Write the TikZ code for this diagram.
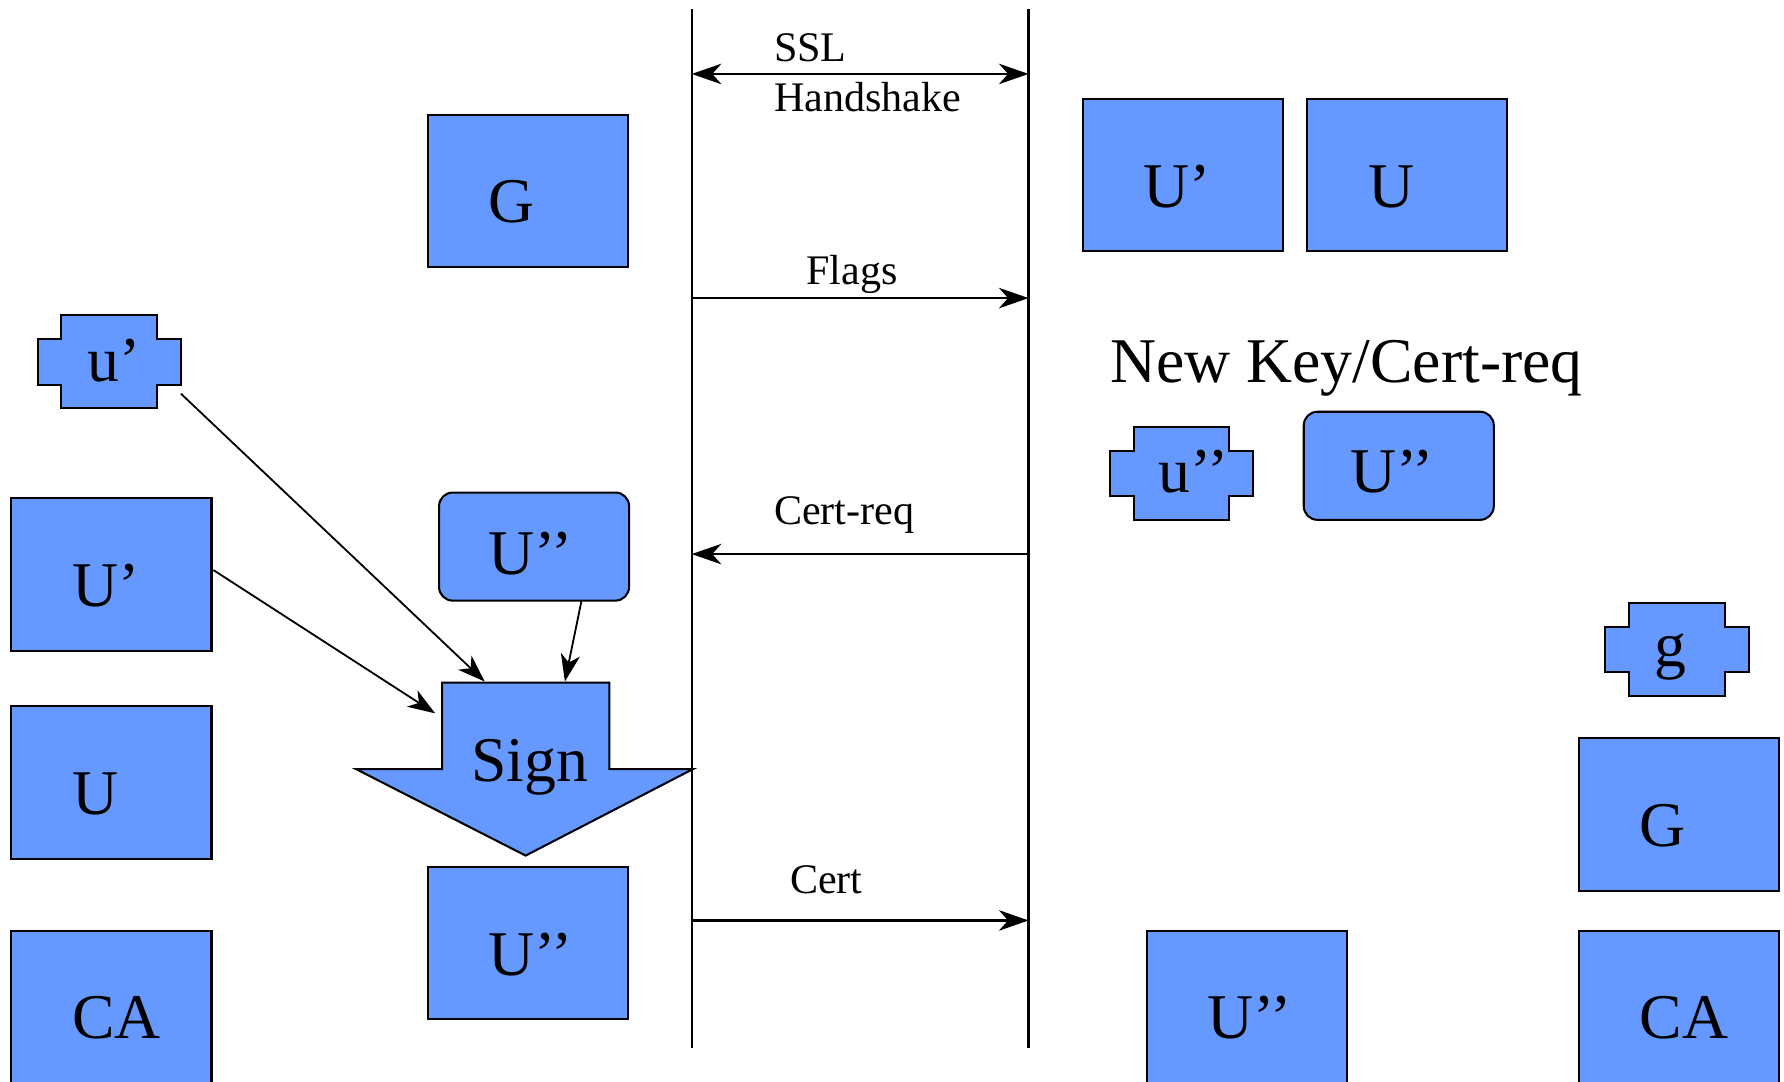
\documentclass[tikz,border=0pt]{standalone}
\usepackage{fontspec}
\setmainfont{Liberation Serif}
\usetikzlibrary{arrows.meta,calc}
\definecolor{boxblue}{HTML}{6699FF}
\newcommand\crossshape[3]{%
  \node[crossbb] (#1) at (#2,#3) {};
  \draw[crossst] (#2+21,#3) -- (#2+105,#3) -- (#2+105,#3+21) -- (#2+126,#3+21) -- (#2+126,#3+61) -- (#2+105,#3+61) -- (#2+105,#3+82) -- (#2+21,#3+82) -- (#2+21,#3+61) -- (#2,#3+61) -- (#2,#3+21) -- (#2+21,#3+21) -- cycle;}
\begin{document}
\begin{tikzpicture}[x=0.5pt,y=-0.5pt,
  box/.style={draw=black, fill=boxblue, line width=0.9pt, minimum width=88pt, minimum height=67pt, inner sep=0pt, anchor=north west},
  rbox/.style={draw=black, fill=boxblue, line width=0.9pt, rounded corners=6pt, minimum width=83.5pt, minimum height=47.5pt, inner sep=0pt, anchor=north west},
  crossbb/.style={minimum width=63pt, minimum height=41pt, inner sep=0pt, anchor=north west},
  crossst/.style={draw=black, fill=boxblue, line width=0.9pt},
  big/.style={font=\fontsize{28}{30}\selectfont, inner sep=0pt, anchor=base west},
  small/.style={font=\fontsize{18.5}{20}\selectfont, inner sep=0pt, anchor=base west},
  head/.style={-{Stealth[length=13pt, width=9pt, inset=4pt]}},
  msg/.style={line width=1pt, head},
  feed/.style={line width=0.8pt, -{Stealth[length=12pt, width=8.5pt, inset=3.5pt]}}]
\useasboundingbox (0,0) rectangle (1568,951);

% lifelines
\coordinate (Ltop) at (608,8);
\coordinate (Lbot) at (608,921);
\coordinate (Rtop) at (904,8);
\coordinate (Rbot) at (904,921);
\draw[line width=1.1pt] (Ltop) -- (Lbot);
\draw[line width=1.1pt] (Rtop) -- (Rbot);

% messages
\coordinate (L1) at (608,65);   \coordinate (R1) at (904,65);
\coordinate (L2) at (608,262);  \coordinate (R2) at (904,262);
\coordinate (L3) at (608,487);  \coordinate (R3) at (904,487);
\coordinate (L4) at (608,809);  \coordinate (R4) at (904,809);
\draw[line width=1pt, {Stealth[length=13pt, width=9pt, inset=4pt]}-{Stealth[length=13pt, width=9pt, inset=4pt]}] (L1) -- (R1);
\draw[msg] (L2) -- (R2);
\draw[msg] (R3) -- (L3);
\draw[msg] (L4) -- (R4);
\node[small] (tssl) at (680,54) {SSL};
\node[small] (thand) at (680,98) {Handshake};
\node[small] (tflags) at (708.5,250) {Flags};
\node[small] (tcreq) at (680,461) {Cert-req};
\node[small] (tcert) at (694,785) {Cert};

% left side
\node[box] (G1) at (375,100) {};
\node[big] (tG1) at (429,196) {G};
\crossshape{uc1}{33}{277}
\node[big] (tuc1) at (76.5,335) {u’};
\node[box] (Up1) at (9,437) {};
\node[big] (tUp1) at (63,533) {U’};
\node[box] (U1) at (9,620) {};
\node[big] (tU1) at (63,716) {U};
\node[box] (CA1) at (9,817) {};
\node[big] (tCA1) at (63,913) {CA};
\node[rbox] (Upp1) at (385,432) {};
\node[big] (tUpp1) at (429,505) {U’’};
\draw[crossst] (388.5,600) -- (535.5,600) -- (535.5,676) -- (609,676) -- (462,752) -- (313,676) -- (388.5,676) -- cycle;
\node[big] (sign) at (414,687) {Sign};
\node[box] (Upp2) at (375,761) {};
\node[big] (tUpp2) at (429,857) {U’’};

% connectors into Sign
\coordinate (s1) at (159,346);
\coordinate (e1) at (426,599);
\coordinate (s2) at (187.5,501);
\coordinate (e2) at (382.5,627);
\coordinate (s3) at (511,528.5);
\coordinate (e3) at (496.5,599);
\draw[feed] (s1) -- (e1);
\draw[feed] (s2) -- (e2);
\draw[feed] (s3) -- (e3);

% right side
\node[box] (Up3) at (951,86) {};
\node[big] (tUp3) at (1005,182) {U’};
\node[box] (U3) at (1148,86) {};
\node[big] (tU3) at (1202,182) {U};
\node[big] (newkey) at (975.5,336) {New Key/Cert-req};
\crossshape{uc3}{975.5}{375}
\node[big] (tuc3) at (1018,433) {u’’};
\node[rbox] (Upp3) at (1145,361) {};
\node[big] (tUpp3) at (1186.5,433) {U’’};
\crossshape{gc}{1411}{530}
\node[big] (tgc) at (1454,586) {g};
\node[box] (G3) at (1387,648) {};
\node[big] (tG3) at (1441,744) {G};
\node[box] (Upp4) at (1007,817) {};
\node[big] (tUpp4) at (1061,913) {U’’};
\node[box] (CA3) at (1387,817) {};
\node[big] (tCA3) at (1441,913) {CA};
\end{tikzpicture}
\end{document}
